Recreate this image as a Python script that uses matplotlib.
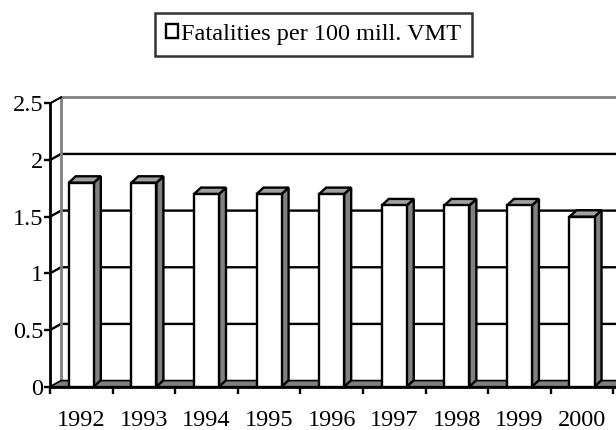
import numpy as np
import matplotlib
matplotlib.use('Agg')
import matplotlib.pyplot as plt
from matplotlib.patches import Polygon, Patch

# Data
years = ['1992', '1993', '1994', '1995', '1996', '1997', '1998', '1999', '2000']
fatalities = [1.8, 1.8, 1.7, 1.7, 1.7, 1.6, 1.6, 1.6, 1.5]
yticks = [0, 0.5, 1, 1.5, 2, 2.5]
series_name = 'Fatalities per 100 mill. VMT'

plt.rcParams['font.family'] = ['Liberation Serif', 'DejaVu Serif']
fs = 17.5

fig = plt.figure(figsize=(6.16, 4.30), dpi=100)
ax = fig.add_axes([50 / 616, 43.3 / 430, 563.3 / 616, 283.3 / 430])

n = len(years)
x = np.arange(n)
ax.set_xlim(-0.5, n - 0.5)
ax.set_ylim(0, 2.5)

# 3-D look: depth offsets of the back wall and of the bars (data units)
wdx, wdy = 0.176, 0.054
bdx, bdy = 0.112, 0.057
gray = '#808080'
xr = n - 0.5 + wdx + 0.3

# back wall gridlines and left wall diagonals
for v in yticks[1:-1]:
    ax.plot([-0.5, -0.5 + wdx, xr], [v, v + wdy, v + wdy], color='black', lw=1.7,
            clip_on=False, zorder=1)
# back wall outline (gray)
ax.plot([-0.5 + wdx, -0.5 + wdx, xr], [wdy, 2.5 + wdy, 2.5 + wdy], color=gray, lw=2,
        clip_on=False, zorder=1)
ax.plot([-0.5, -0.5 + wdx], [2.5, 2.5 + wdy], color='black', lw=1.5, clip_on=False, zorder=1)

# floor
floor = Polygon([(-0.5, 0), (xr, 0), (xr + wdx, wdy), (-0.5 + wdx, wdy)], closed=True,
                facecolor=gray, edgecolor='black', lw=1.2, clip_on=False, zorder=2)
ax.add_patch(floor)

# bars: front faces from ax.bar, side and top faces from the bar geometry
bars = ax.bar(x, fatalities, width=0.4, color='white', edgecolor='black', lw=1.7, zorder=4)
for b in bars:
    x0, w, h = b.get_x(), b.get_width(), b.get_height()
    side = Polygon([(x0 + w, 0), (x0 + w + bdx, bdy), (x0 + w + bdx, h + bdy), (x0 + w, h)],
                   closed=True, facecolor=gray, edgecolor='black', lw=1.7, zorder=3)
    top = Polygon([(x0, h), (x0 + bdx, h + bdy), (x0 + w + bdx, h + bdy), (x0 + w, h)],
                  closed=True, facecolor='#a0a0a0', edgecolor='black', lw=1.7, zorder=3)
    ax.add_patch(side)
    ax.add_patch(top)

# axes
for s in ['top', 'right']:
    ax.spines[s].set_visible(False)
ax.spines['left'].set_linewidth(2)
ax.spines['bottom'].set_linewidth(2)
ax.spines['bottom'].set_bounds(-0.5, xr)
ax.spines['bottom'].set_clip_on(False)
ax.spines['left'].set_zorder(5)
ax.spines['bottom'].set_zorder(5)

ax.set_yticks(yticks)
ax.set_yticklabels(['0', '0.5', '1', '1.5', '2', '2.5'])
ax.tick_params(axis='y', direction='out', length=4, width=1.7, pad=1, labelsize=fs)

ax.set_xticks(np.arange(-0.5, n))
ax.xaxis.set_major_formatter(plt.NullFormatter())
ax.set_xticks(x, labels=years, minor=True)
ax.tick_params(axis='x', which='major', direction='out', length=5, width=1.7)
ax.tick_params(axis='x', which='minor', length=0, pad=17, labelsize=fs)

ax.set_facecolor('none')

fig.legend(handles=[Patch(facecolor='white', edgecolor='black', lw=1.7)],
           labels=[series_name], loc='upper center', bbox_to_anchor=(0.509, 0.97),
           fontsize=fs, frameon=True, fancybox=False, edgecolor='black',
           handlelength=0.52, handleheight=0.52, handletextpad=0.12, borderpad=0.45,
           borderaxespad=0)
fig.legends[0].get_frame().set_linewidth(1.8)

fig.savefig('out.png', dpi=100)
